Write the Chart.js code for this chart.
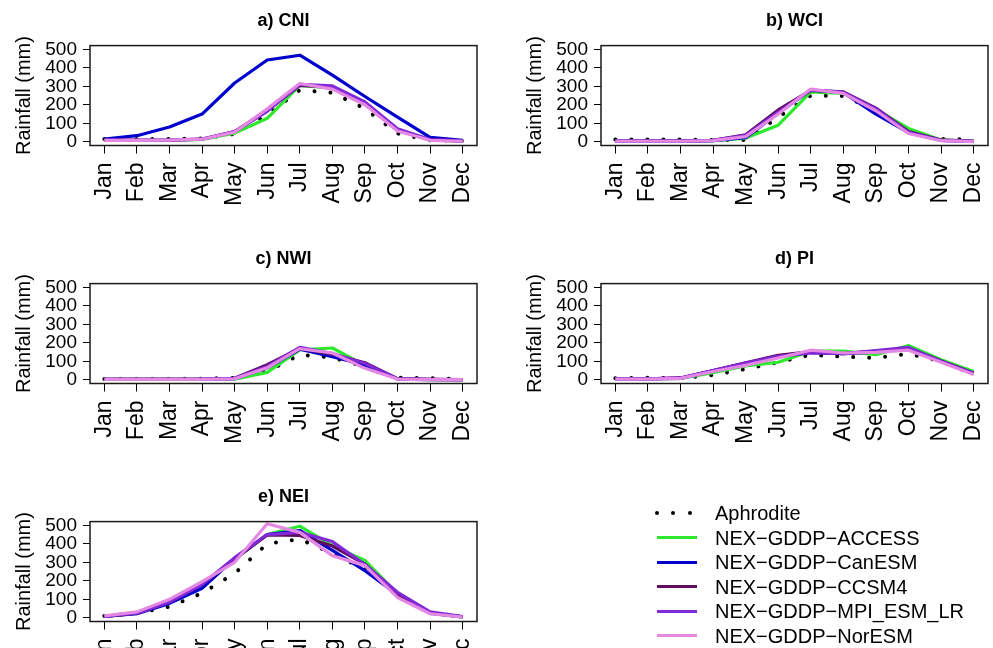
<!DOCTYPE html>
<html>
<head>
<meta charset="utf-8">
<script src="https://cdn.jsdelivr.net/npm/chart.js@4"></script>
<style>
html,body{margin:0;padding:0;background:#fff;overflow:hidden;width:993px;height:648px;position:relative;}
.panel{position:absolute;width:482px;height:238px;}
#legend{position:absolute;left:0;top:0;width:993px;height:648px;font-family:"Liberation Sans",Arial,sans-serif;font-size:20px;color:#000;pointer-events:none;}
.lrow{position:absolute;left:715px;line-height:24px;white-space:nowrap;}
.lline{position:absolute;left:657px;width:40px;height:3px;}
.ldot{position:absolute;width:4px;height:4px;border-radius:50%;background:#000;}
</style>
</head>
<body>
<canvas id="cA" class="panel" width="482" height="238" style="left:0px;top:0px"></canvas>
<canvas id="cB" class="panel" width="482" height="238" style="left:511px;top:0px"></canvas>
<canvas id="cC" class="panel" width="482" height="238" style="left:0px;top:238px"></canvas>
<canvas id="cD" class="panel" width="482" height="238" style="left:511px;top:238px"></canvas>
<canvas id="cE" class="panel" width="482" height="238" style="left:0px;top:476px"></canvas>
<div id="legend"></div>
<script>
const months = ['Jan','Feb','Mar','Apr','May','Jun','Jul','Aug','Sep','Oct','Nov','Dec'];
const yTicks = [0,100,200,300,400,500];
const seriesNames = ['Aphrodite','NEX\u2212GDDP\u2212ACCESS','NEX\u2212GDDP\u2212CanESM','NEX\u2212GDDP\u2212CCSM4','NEX\u2212GDDP\u2212MPI_ESM_LR','NEX\u2212GDDP\u2212NorESM'];
const seriesColors = ['#000000','#2EE82E','#0000CD','#620C60','#8228D8','#E488E4'];
const panelTitles = ['a) CNI','b) WCI','c) NWI','d) PI','e) NEI'];

// a) CNI
const cniAphrodite = [15,15,15,18,42,145,280,265,180,45,8,5];
const cniAccess    = [8,8,8,13,47,127,305,290,205,68,10,5];
const cniCanesm    = [15,33,80,150,318,442,468,360,245,133,24,8];
const cniCcsm4     = [8,8,8,14,55,170,305,295,205,62,10,4];
const cniMpi       = [9,9,10,15,55,165,310,302,215,70,12,5];
const cniNoresm    = [8,8,9,14,52,178,315,285,200,58,8,3];
// b) WCI
const wciAphrodite = [12,12,12,10,10,133,250,248,170,50,15,12];
const wciAccess    = [3,3,3,5,20,90,270,262,175,72,10,2];
const wciCanesm    = [3,3,3,6,22,155,280,265,150,50,8,2];
const wciCcsm4     = [4,4,4,8,38,172,278,270,182,55,10,2];
const wciMpi       = [4,4,4,8,35,160,280,268,178,52,8,2];
const wciNoresm    = [3,3,3,6,28,150,285,262,168,45,6,1];
// c) NWI
const nwiAphrodite = [5,5,5,6,10,45,135,121,70,12,8,5];
const nwiAccess    = [2,2,2,2,3,40,162,172,78,5,1,1];
const nwiCanesm    = [2,2,2,2,6,65,165,125,80,4,1,1];
const nwiCcsm4     = [2,2,2,3,8,82,170,138,92,6,2,1];
const nwiMpi       = [2,2,2,3,8,72,175,142,88,5,2,1];
const nwiNoresm    = [2,2,2,2,5,65,168,145,62,4,1,1];
// d) PI
const piAphrodite  = [9,11,8,26,58,95,135,125,118,140,100,30];
const piAccess     = [5,5,8,38,75,95,155,155,136,185,108,45];
const piCanesm     = [5,5,8,48,88,130,148,142,150,172,100,36];
const piCcsm4      = [5,5,10,50,92,132,152,142,155,170,102,36];
const piMpi        = [5,5,10,50,90,127,145,142,158,175,100,34];
const piNoresm     = [4,4,8,45,78,118,160,145,148,160,95,28];
// e) NEI
const neiAphrodite = [10,25,60,133,240,400,425,348,262,130,25,10];
const neiAccess    = [8,25,85,180,315,450,495,390,310,130,25,5];
const neiCanesm    = [8,22,78,160,320,450,472,365,255,125,25,5];
const neiCcsm4     = [8,25,85,180,318,448,445,388,290,125,25,5];
const neiMpi       = [8,25,85,180,325,450,462,412,288,138,32,6];
const neiNoresm    = [10,32,100,195,300,508,462,336,282,110,22,4];

const panelData = [
  [cniAphrodite,cniAccess,cniCanesm,cniCcsm4,cniMpi,cniNoresm],
  [wciAphrodite,wciAccess,wciCanesm,wciCcsm4,wciMpi,wciNoresm],
  [nwiAphrodite,nwiAccess,nwiCanesm,nwiCcsm4,nwiMpi,nwiNoresm],
  [piAphrodite,piAccess,piCanesm,piCcsm4,piMpi,piNoresm],
  [neiAphrodite,neiAccess,neiCanesm,neiCcsm4,neiMpi,neiNoresm]
];
const canvasIds = ['cA','cB','cC','cD','cE'];

Chart.defaults.font.family = "'Liberation Sans', Arial, sans-serif";
Chart.defaults.color = '#000';

const boxPlugin = {
  id: 'box',
  afterDraw(chart) {
    const a = chart.chartArea, ctx = chart.ctx;
    ctx.save();
    ctx.strokeStyle = '#1a1a1a';
    ctx.lineWidth = 1.5;
    ctx.strokeRect(a.left, a.top, a.right - a.left, a.bottom - a.top);
    ctx.restore();
  }
};

function makeChart(id, title, arrays) {
  const datasets = arrays.map((vals, k) => ({
    label: seriesNames[k],
    data: vals.map((v, i) => ({x: i, y: v})),
    borderColor: seriesColors[k],
    backgroundColor: seriesColors[k],
    borderWidth: k === 0 ? 4 : 3.2,
    borderDash: k === 0 ? [0.01, 16] : [],
    borderCapStyle: k === 0 ? 'round' : 'butt',
    borderJoinStyle: 'round',
    pointRadius: 0,
    fill: false,
    tension: 0,
    order: 6 - k
  }));
  return new Chart(document.getElementById(id), {
    type: 'line',
    data: {datasets},
    plugins: [boxPlugin],
    options: {
      responsive: false,
      devicePixelRatio: 1,
      animation: false,
      layout: {padding: {left: 0, top: 0, right: 5, bottom: 0}},
      plugins: {
        legend: {display: false},
        tooltip: {enabled: false},
        title: {display: true, text: title, fullSize: false, color: '#000',
                font: {size: 18, weight: 'bold'}, padding: {top: 10, bottom: 14}}
      },
      scales: {
        x: {
          type: 'linear', min: -0.44, max: 11.44,
          afterBuildTicks: ax => { ax.ticks = months.map((m, i) => ({value: i})); },
          afterFit: s => { s.height = 92.5; s.paddingLeft = 0; s.paddingRight = 0; },
          ticks: {autoSkip: false, minRotation: 90, maxRotation: 90, padding: 9,
                  font: {size: 23}, color: '#000', callback: v => months[v]},
          grid: {drawOnChartArea: false, drawTicks: true, tickLength: 8, color: '#000', tickColor: '#000', lineWidth: 1},
          border: {display: false}
        },
        y: {
          type: 'linear', min: -20, max: 520,
          afterBuildTicks: ax => { ax.ticks = yTicks.map(v => ({value: v})); },
          afterFit: s => { s.width = 90; s.paddingTop = 0; s.paddingBottom = 0; },
          ticks: {autoSkip: false, font: {size: 19}, padding: 6, color: '#000'},
          grid: {drawOnChartArea: false, drawTicks: true, tickLength: 7, color: '#000', tickColor: '#000', lineWidth: 1},
          border: {display: false},
          title: {display: true, text: 'Rainfall (mm)', color: '#000', font: {size: 20}, padding: {top: 12, bottom: 0}}
        }
      }
    }
  });
}

canvasIds.forEach((id, p) => makeChart(id, panelTitles[p], panelData[p]));

// legend
const legend = document.getElementById('legend');
const rowCenters = [513, 537.5, 562, 586.5, 611, 635.5];
seriesNames.forEach((name, k) => {
  const cy = rowCenters[k];
  const t = document.createElement('div');
  t.className = 'lrow';
  t.style.top = (cy - 12) + 'px';
  t.textContent = name;
  legend.appendChild(t);
  if (k === 0) {
    [657, 673, 690].forEach(x => {
      const d = document.createElement('div');
      d.className = 'ldot';
      d.style.left = (x - 2) + 'px';
      d.style.top = (cy - 2) + 'px';
      legend.appendChild(d);
    });
  } else {
    const l = document.createElement('div');
    l.className = 'lline';
    l.style.top = (cy - 1.5) + 'px';
    l.style.background = seriesColors[k];
    legend.appendChild(l);
  }
});
</script>
</body>
</html>
